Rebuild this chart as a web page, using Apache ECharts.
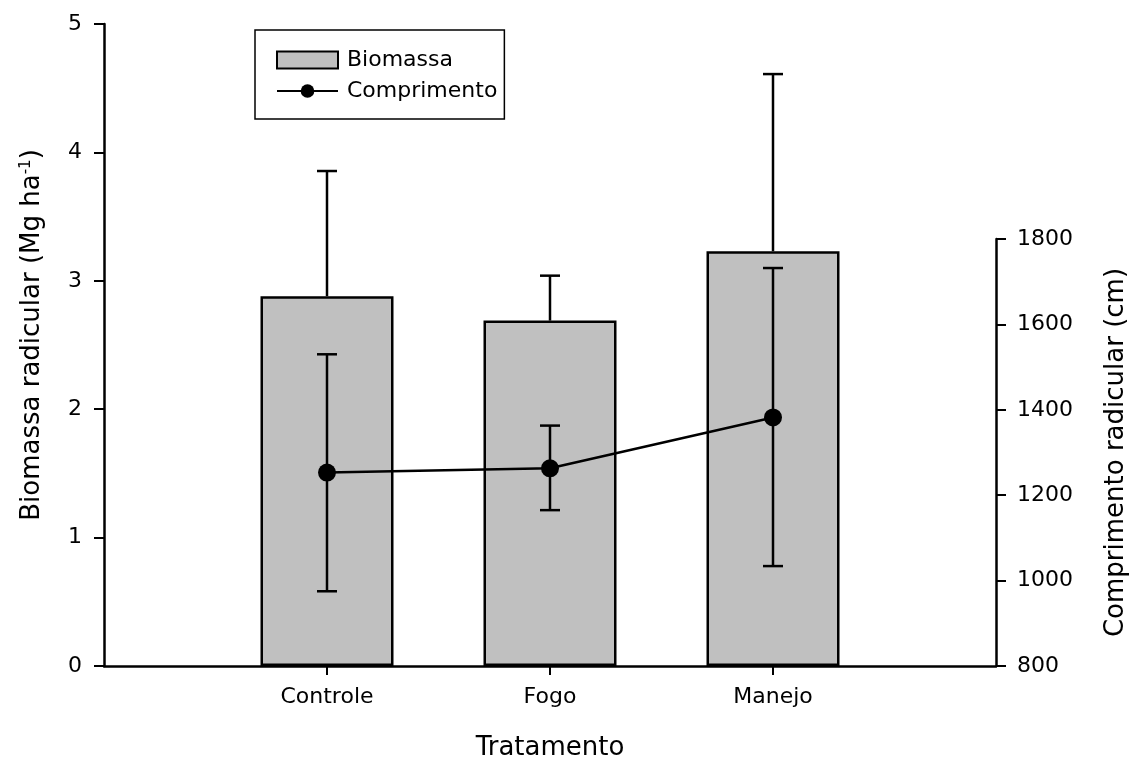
<!DOCTYPE html>
<html>
<head>
<meta charset="utf-8">
<script src="https://cdn.jsdelivr.net/npm/echarts@6/dist/echarts.min.js"></script>
<style>
  html, body { margin: 0; padding: 0; background: #fff; }
  #chart { width: 1130px; height: 765px; }
</style>
</head>
<body>
<div id="chart"></div>
<script>
// tratamentos
const categories = ['Controle', 'Fogo', 'Manejo']
// biomassa radicular (Mg ha-1) e limite superior do erro
const biomassa = [2.88, 2.69, 3.23]
const biomassaTop = [3.855, 3.04, 4.61]
// comprimento radicular (cm) e limites do erro
const comprimento = [1253, 1263, 1382]
const comprLow = [975, 1165, 1034]
const comprHigh = [1530, 1363, 1732]

const font = 'DejaVu Sans'
// eixo x com uma posicao vazia em cada ponta
const xData = [''].concat(categories, [''])

function errorBar(params, api) {
  const x = api.value(0)
  const lo = api.coord([x, api.value(1)])
  const hi = api.coord([x, api.value(2)])
  const cap = 10
  const style = { stroke: '#000', lineWidth: 2.5 }
  const children = [
    { type: 'line', shape: { x1: lo[0], y1: lo[1], x2: hi[0], y2: hi[1] }, style },
    { type: 'line', shape: { x1: hi[0] - cap, y1: hi[1], x2: hi[0] + cap, y2: hi[1] }, style }
  ]
  if (api.value(3)) {
    children.push({ type: 'line', shape: { x1: lo[0] - cap, y1: lo[1], x2: lo[0] + cap, y2: lo[1] }, style })
  }
  return { type: 'group', children }
}

const chart = echarts.init(document.querySelector('#chart'))
const option = {
  animation: false,
  textStyle: { fontFamily: font, color: '#000' },
  grid: [
    { left: 104, right: 134, top: 24, bottom: 99, outerBoundsMode: 'none', containLabel: false },
    { left: 104, right: 134, top: 239, bottom: 99, outerBoundsMode: 'none', containLabel: false }
  ],
  legend: {
    left: 255,
    top: 30,
    orient: 'vertical',
    padding: [19, 7, 17, 21],
    itemGap: 9,
    itemWidth: 61,
    itemHeight: 17,
    borderColor: '#000',
    borderWidth: 1.5,
    textStyle: { fontFamily: font, fontSize: 22, color: '#000', padding: [0, 0, 0, 4] },
    data: [
      { name: 'Biomassa', icon: 'rect' },
      { name: 'Comprimento' }
    ]
  },
  xAxis: [
    {
      type: 'category',
      gridIndex: 0,
      data: xData,
      boundaryGap: false,
      name: 'Tratamento',
      nameLocation: 'middle',
      nameGap: 69,
      nameTextStyle: { fontSize: 26, fontFamily: font, color: '#000' },
      axisLine: { lineStyle: { color: '#000', width: 2.5 } },
      axisTick: {
        length: 9,
        lineStyle: { color: '#000', width: 2 },
        interval: (i, v) => v !== ''
      },
      axisLabel: { margin: 20, fontSize: 22, color: '#000', fontFamily: font, interval: 0 },
      splitLine: { show: false }
    },
    {
      type: 'category',
      gridIndex: 1,
      data: xData,
      boundaryGap: false,
      show: false
    }
  ],
  yAxis: [
    {
      type: 'value',
      gridIndex: 0,
      min: 0,
      max: 5,
      interval: 1,
      name: 'Biomassa radicular (Mg ha{sup|-1})',
      nameLocation: 'middle',
      nameGap: 59,
      nameTextStyle: {
        fontSize: 26,
        fontFamily: font,
        color: '#000',
        padding: [0, 0, 0, 20],
        rich: {
          sup: { fontSize: 15, fontFamily: font, color: '#000', verticalAlign: 'top', padding: [0, 0, 10, 0] }
        }
      },
      axisLine: { show: true, lineStyle: { color: '#000', width: 2.5 } },
      axisTick: { show: true, length: 10, lineStyle: { color: '#000', width: 2 } },
      axisLabel: { margin: 22, fontSize: 22, color: '#000', fontFamily: font },
      splitLine: { show: false }
    },
    {
      type: 'value',
      gridIndex: 1,
      position: 'right',
      min: 800,
      max: 1800,
      interval: 200,
      name: 'Comprimento radicular (cm)',
      nameLocation: 'middle',
      nameGap: 107,
      nameTextStyle: { fontSize: 26, fontFamily: font, color: '#000' },
      axisLine: { show: true, lineStyle: { color: '#000', width: 2.5 } },
      axisTick: { show: true, length: 10, lineStyle: { color: '#000', width: 2 } },
      axisLabel: { margin: 21, fontSize: 22, color: '#000', fontFamily: font, formatter: v => String(v) },
      splitLine: { show: false }
    }
  ],
  series: [
    {
      name: 'Biomassa',
      type: 'bar',
      xAxisIndex: 0,
      yAxisIndex: 0,
      barWidth: 133,
      itemStyle: { color: '#c0c0c0', borderColor: '#000', borderWidth: 2.5 },
      data: categories.map((c, i) => [c, biomassa[i]]),
      z: 2
    },
    {
      type: 'custom',
      xAxisIndex: 0,
      yAxisIndex: 0,
      renderItem: errorBar,
      data: categories.map((c, i) => [c, biomassa[i], biomassaTop[i], 0]),
      z: 3
    },
    {
      type: 'custom',
      xAxisIndex: 1,
      yAxisIndex: 1,
      renderItem: errorBar,
      data: categories.map((c, i) => [c, comprLow[i], comprHigh[i], 1]),
      z: 4
    },
    {
      name: 'Comprimento',
      type: 'line',
      xAxisIndex: 1,
      yAxisIndex: 1,
      symbol: 'circle',
      symbolSize: 18,
      lineStyle: { color: '#000', width: 2.5 },
      itemStyle: { color: '#000' },
      data: categories.map((c, i) => [c, comprimento[i]]),
      z: 5
    }
  ]
}
chart.setOption(option)
</script>
</body>
</html>
